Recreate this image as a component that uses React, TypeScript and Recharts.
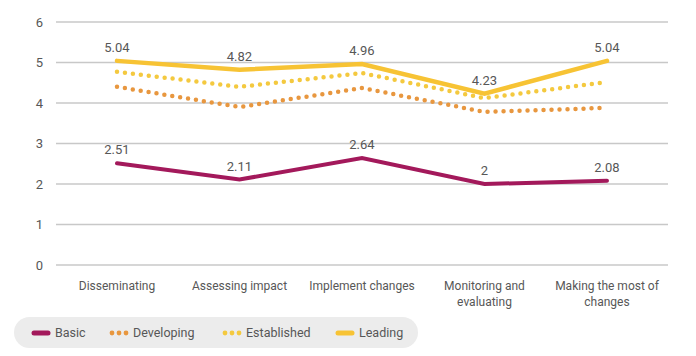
import { LineChart, Line, XAxis, YAxis, CartesianGrid, LabelList } from 'recharts';

const categories = ['Disseminating', 'Assessing impact', 'Implement changes', 'Monitoring and evaluating', 'Making the most of changes'];
// how each category label is wrapped under the axis
const tickLines = [['Disseminating'], ['Assessing impact'], ['Implement changes'], ['Monitoring and', 'evaluating'], ['Making the most of', 'changes']];
const basic = [2.51, 2.11, 2.64, 2, 2.08];
const developing = [4.4, 3.9, 4.37, 3.78, 3.88];
const established = [4.77, 4.4, 4.74, 4.12, 4.52];
const leading = [5.04, 4.82, 4.96, 4.23, 5.04];
const yTicks = [0, 1, 2, 3, 4, 5, 6];

const data = categories.map((name, i) => ({
  name,
  basic: basic[i],
  developing: developing[i],
  established: established[i],
  leading: leading[i],
}));

const FONT = 'Roboto, "DejaVu Sans", sans-serif';
const TEXT = '#575757';

const series = [
  { key: 'basic', name: 'Basic', color: '#a3195b', dotted: false },
  { key: 'developing', name: 'Developing', color: '#e8973f', dotted: true },
  { key: 'established', name: 'Established', color: '#f4c93f', dotted: true },
  { key: 'leading', name: 'Leading', color: '#f7c334', dotted: false },
];

function CategoryTick(props: any) {
  const { x, y, payload } = props;
  const lines = tickLines[categories.indexOf(payload.value)] || [payload.value];
  return (
    <text x={x} y={y} textAnchor="middle" fill={TEXT} fontSize={12} fontFamily={FONT}>
      {lines.map((line, i) => (
        <tspan key={i} x={x} dy={i === 0 ? '0.9em' : 16}>{line}</tspan>
      ))}
    </text>
  );
}

function ChartLegend() {
  return (
    <div style={{
      position: 'absolute', left: 14, top: 317, width: 404, height: 31,
      background: '#ececec', borderRadius: 16, display: 'flex', alignItems: 'center',
      fontFamily: FONT, fontSize: 12.5, color: TEXT,
    }}>
      {series.map((s, i) => (
        <div key={s.key} style={{ display: 'flex', alignItems: 'center', position: 'absolute', left: [17, 95, 208, 321][i] }}>
          <svg width={20} height={10} style={{ marginRight: 4 }}>
            {s.dotted ? (
              [3, 10, 17].map((cx) => <circle key={cx} cx={cx} cy={5} r={2.4} fill={s.color} />)
            ) : (
              <line x1={3} y1={5} x2={17} y2={5} stroke={s.color} strokeWidth={5} strokeLinecap="round" />
            )}
          </svg>
          <span>{s.name}</span>
        </div>
      ))}
    </div>
  );
}

export default function App() {
  return (
    <div style={{ position: 'absolute', left: 0, top: 0, width: 696, height: 356, background: '#fff' }}>
      <LineChart width={696} height={356} data={data} margin={{ top: 22, right: 28, left: 0, bottom: 41 }}>
        <CartesianGrid vertical={false} stroke="#c8c8c8" strokeWidth={1.5} />
        <XAxis
          dataKey="name"
          axisLine={false}
          tickLine={false}
          interval={0}
          tickMargin={8}
          height={50}
          padding={{ left: 61, right: 61 }}
          tick={<CategoryTick />}
        />
        <YAxis
          domain={[0, 6]}
          ticks={yTicks}
          width={56}
          axisLine={false}
          tickLine={false}
          tickMargin={7}
          tick={{ fill: TEXT, fontSize: 13, fontFamily: FONT }}
        />
        {series.map((s) => (
          <Line
            key={s.key}
            dataKey={s.key}
            name={s.name}
            stroke={s.color}
            strokeWidth={s.dotted ? 4.5 : s.key === 'leading' ? 4.5 : 4}
            strokeDasharray={s.dotted ? '0 8' : undefined}
            strokeLinecap="round"
            dot={false}
            activeDot={false}
            isAnimationActive={false}
          >
            {!s.dotted && (
              <LabelList
                dataKey={s.key}
                position="top"
                offset={9}
                fill={TEXT}
                fontSize={13}
                fontFamily={FONT}
              />
            )}
          </Line>
        ))}
      </LineChart>
      <ChartLegend />
    </div>
  );
}
